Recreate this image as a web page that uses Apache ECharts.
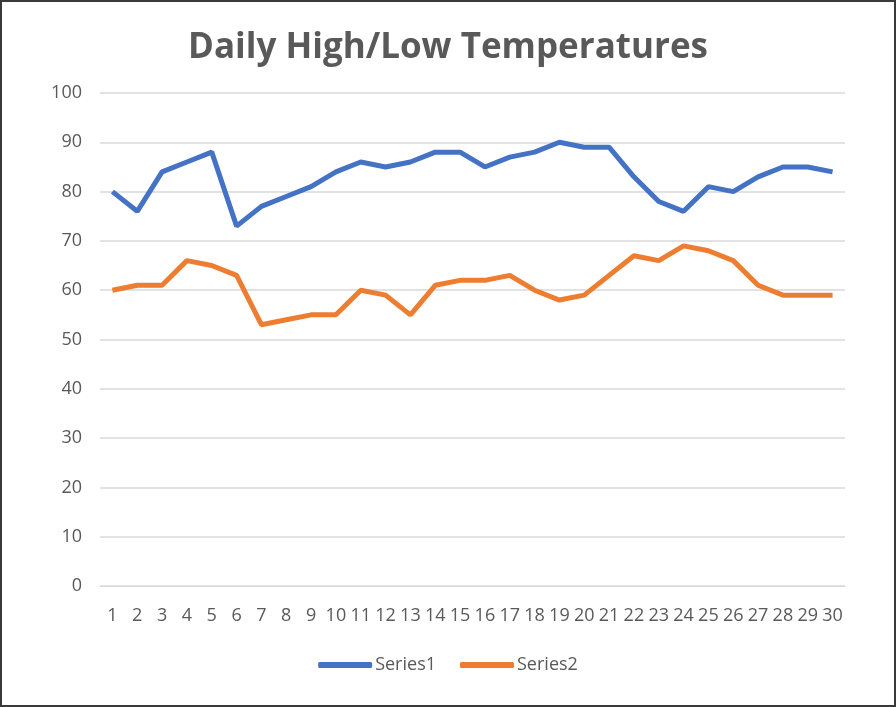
<!DOCTYPE html>
<html>
<head>
<meta charset="utf-8">
<script src="https://cdn.jsdelivr.net/npm/echarts@6/dist/echarts.min.js"></script>
<style>
html,body{margin:0;padding:0;background:#fff;}
#c{width:896px;height:707px;box-sizing:border-box;border:2px solid #3a3a3a;}
</style>
</head>
<body>
<div id="c"></div>
<script>
var categories = ['1','2','3','4','5','6','7','8','9','10','11','12','13','14','15','16','17','18','19','20','21','22','23','24','25','26','27','28','29','30'];
var series1 = [80,76,84,86,88,73,77,79,81,84,86,85,86,88,88,85,87,88,90,89,89,83,78,76,81,80,83,85,85,84];
var series2 = [60,61,61,66,65,63,53,54,55,55,60,59,55,61,62,62,63,60,58,59,63,67,66,69,68,66,61,59,59,59];
var yTicks = {min:0, max:100, interval:10};

var chart = echarts.init(document.getElementById('c'));
chart.setOption({
  animation:false,
  title:{text:'Daily High/Low Temperatures', left:'center', top:24,
    textStyle:{fontSize:35, fontWeight:'bold', color:'#595959', fontFamily:'Open Sans'}},
  grid:{left:98, right:49, top:91, bottom:119},
  legend:{bottom:26, left:'center', itemWidth:54, itemHeight:6, itemGap:24,
    icon:'roundRect',
    textStyle:{fontSize:18, color:'#595959', fontFamily:'Open Sans', padding:[0,0,0,-2]},
    data:['Series1','Series2']},
  xAxis:{type:'category', data:categories, boundaryGap:true,
    axisLine:{show:true, lineStyle:{color:'#d9d9d9'}}, axisTick:{show:false},
    axisLabel:{color:'#595959', fontSize:18, fontFamily:'Open Sans', margin:21, interval:0}},
  yAxis:{type:'value', min:yTicks.min, max:yTicks.max, interval:yTicks.interval,
    axisLine:{show:false}, axisTick:{show:false},
    splitLine:{lineStyle:{color:'#d9d9d9', width:1.5}},
    axisLabel:{color:'#595959', fontSize:18, fontFamily:'Open Sans', margin:18}},
  series:[
    {name:'Series1', type:'line', data:series1, symbol:'none', lineStyle:{color:'#4472C4', width:5}, itemStyle:{color:'#4472C4'}},
    {name:'Series2', type:'line', data:series2, symbol:'none', lineStyle:{color:'#ED7D31', width:5}, itemStyle:{color:'#ED7D31'}}
  ]
});
</script>
</body>
</html>
